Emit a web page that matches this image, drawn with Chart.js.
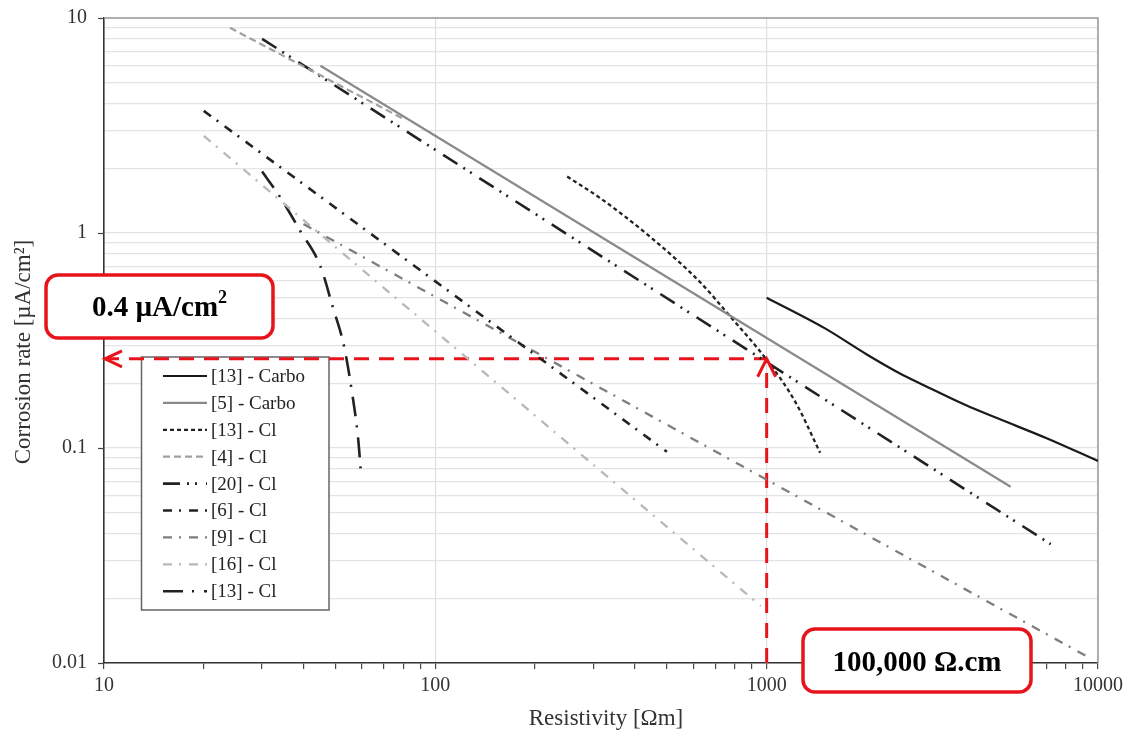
<!DOCTYPE html>
<html>
<head>
<meta charset="utf-8">
<script src="https://cdn.jsdelivr.net/npm/chart.js@4.4.0/dist/chart.umd.min.js"></script>
<style>
  html, body { margin: 0; padding: 0; background: #fff; }
  #wrap { width: 1130px; height: 740px; position: relative; }
</style>
</head>
<body>
<div id="wrap"><canvas id="chart" width="1130" height="740"></canvas></div>
<script>
// x = resistivity [Ωm], y = corrosion rate [µA/cm²]
const carbo13X = [1000, 1500, 2000, 2500, 3000, 4000, 5000, 7000, 10000];
const carbo13Y = [0.50, 0.36, 0.273, 0.224, 0.195, 0.158, 0.137, 0.111, 0.087];

const carbo5X = [45, 5450];
const carbo5Y = [6.0, 0.066];

const cl13dotX = [250, 315, 445, 630, 765, 1000, 1220, 1450];
const cl13dotY = [1.83, 1.45, 0.96, 0.59, 0.42, 0.257, 0.164, 0.095];

const cl4X = [24, 80];
const cl4Y = [9.0, 3.4];

const cl20X = [30, 7200];
const cl20Y = [8.0, 0.0357];

const cl6X = [20, 500];
const cl6Y = [3.7, 0.096];

const cl9X = [40, 9500];
const cl9Y = [1.1, 0.0105];

const cl16X = [20, 960];
const cl16Y = [2.83, 0.0184];

const cl13dashX = [30, 34, 39, 45, 49, 53, 55.7, 58.5, 59.5];
const cl13dashY = [1.93, 1.47, 1.03, 0.70, 0.454, 0.298, 0.193, 0.11, 0.08];

// red reading lines
const readX = [10, 1000];
const readY = [0.26, 0.26];
const readVX = [1000, 1000];
const readVY = [0.01, 0.26];

const yMajor = [0.01, 0.1, 1, 10];

const xTicks = [];
[10, 100, 1000].forEach(d => { for (let k = 1; k < 10; k++) xTicks.push(k * d); });
xTicks.push(10000);
const yTicks = [];
[0.01, 0.1, 1].forEach(d => { for (let k = 1; k < 10; k++) yTicks.push(+(k * d).toPrecision(3)); });
yTicks.push(10);

const isMajor = v => Math.abs(Math.log10(v) - Math.round(Math.log10(v))) < 1e-9;
const pts = (xs, ys) => xs.map((x, i) => ({ x: x, y: ys[i] }));

function series(label, xs, ys, color, width, dash, curved) {
    return {
        label: label,
        data: pts(xs, ys),
        borderColor: color,
        borderWidth: width,
        borderDash: dash,
        pointRadius: 0,
        fill: false,
        cubicInterpolationMode: curved ? 'monotone' : 'default',
        tension: 0
    };
}

const datasets = [
    series('[13] - Carbo', carbo13X, carbo13Y, '#1a1a1a', 2.2, [], true),
    series('[5] - Carbo', carbo5X, carbo5Y, '#8a8a8a', 2.2, [], false),
    series('[13] - Cl', cl13dotX, cl13dotY, '#222', 2.3, [4, 3], true),
    series('[4] - Cl', cl4X, cl4Y, '#a0a0a0', 2.2, [7, 4], false),
    series('[20] - Cl', cl20X, cl20Y, '#222', 2.6, [17, 7, 2, 6, 2, 9], false),
    series('[6] - Cl', cl6X, cl6Y, '#222', 2.6, [9, 7, 2, 8], false),
    series('[9] - Cl', cl9X, cl9Y, '#7e7e7e', 2.3, [9, 7, 2, 8], false),
    series('[16] - Cl', cl16X, cl16Y, '#b8b8b8', 2.3, [9, 7, 2, 8], false),
    series('[13] - Cl', cl13dashX, cl13dashY, '#222', 2.6, [20, 9, 2, 10], true)
];
const legendCount = datasets.length;

const RED = '#e8141c';
datasets.push({ label: 'readH', data: pts(readX, readY), borderColor: RED, borderWidth: 3, borderDash: [15, 10], pointRadius: 0, clip: false });
datasets.push({ label: 'readV', data: pts(readVX, readVY), borderColor: RED, borderWidth: 3, borderDash: [15, 10], pointRadius: 0, clip: false });

function roundBox(ctx, x, y, w, h, r) {
    ctx.beginPath();
    ctx.moveTo(x + r, y);
    ctx.arcTo(x + w, y, x + w, y + h, r);
    ctx.arcTo(x + w, y + h, x, y + h, r);
    ctx.arcTo(x, y + h, x, y, r);
    ctx.arcTo(x, y, x + w, y, r);
    ctx.closePath();
    ctx.fillStyle = '#fff';
    ctx.fill();
    ctx.lineWidth = 3.5;
    ctx.strokeStyle = RED;
    ctx.stroke();
}

const decor = {
    id: 'decor',
    beforeDatasetsDraw(chart) {
        const ctx = chart.ctx;
        const a = chart.chartArea;
        ctx.save();
        // top / right frame
        ctx.strokeStyle = '#9a9a9a';
        ctx.lineWidth = 1.5;
        ctx.beginPath();
        ctx.moveTo(a.left, a.top);
        ctx.lineTo(a.right, a.top);
        ctx.lineTo(a.right, a.bottom);
        ctx.stroke();

        // short tick marks on the y axis (major values only)
        ctx.strokeStyle = '#444';
        ctx.lineWidth = 1.2;
        yMajor.forEach(v => {
            const py = Math.round(chart.scales.y.getPixelForValue(v)) + 0.5;
            ctx.beginPath();
            ctx.moveTo(a.left - 6, py);
            ctx.lineTo(a.left, py);
            ctx.stroke();
        });

        // legend box
        const lx = 141.5, ly = 357, lw = 187.5, lh = 253;
        ctx.fillStyle = '#fff';
        ctx.fillRect(lx, ly, lw, lh);
        ctx.strokeStyle = '#666';
        ctx.lineWidth = 1.5;
        ctx.strokeRect(lx, ly, lw, lh);
        ctx.font = '19px "Liberation Serif"';
        ctx.textBaseline = 'middle';
        ctx.fillStyle = '#222';
        for (let i = 0; i < legendCount; i++) {
            const ds = datasets[i];
            const y = 376 + i * 26.9;
            ctx.beginPath();
            ctx.setLineDash(ds.borderDash);
            ctx.strokeStyle = ds.borderColor;
            ctx.lineWidth = ds.borderWidth;
            ctx.moveTo(163, y);
            ctx.lineTo(207, y);
            ctx.stroke();
            ctx.setLineDash([]);
            ctx.fillText(ds.label, 211, y + 1);
        }
        ctx.restore();
    },
    afterDraw(chart) {
        const ctx = chart.ctx;
        const xs = chart.scales.x, ys = chart.scales.y;
        ctx.save();
        // arrow heads
        ctx.strokeStyle = RED;
        ctx.lineWidth = 3;
        const hx = xs.getPixelForValue(readX[0]) + 1, hy = ys.getPixelForValue(readY[0]);
        ctx.beginPath();
        ctx.moveTo(hx + 17, hy - 8);
        ctx.lineTo(hx, hy);
        ctx.lineTo(hx + 17, hy + 8);
        ctx.stroke();
        const vx = xs.getPixelForValue(readVX[1]), vy = ys.getPixelForValue(readVY[1]);
        ctx.beginPath();
        ctx.moveTo(vx - 9, vy + 18);
        ctx.lineTo(vx, vy);
        ctx.lineTo(vx + 9, vy + 18);
        ctx.stroke();

        // annotation boxes
        roundBox(ctx, 46, 275, 227, 63, 12);
        roundBox(ctx, 803, 629, 228, 63, 12);
        ctx.fillStyle = '#000';
        ctx.textBaseline = 'alphabetic';
        ctx.font = 'bold 29px "Liberation Serif"';
        const t1 = '0.4 µA/cm';
        const w1 = ctx.measureText(t1).width;
        ctx.font = 'bold 18px "Liberation Serif"';
        const w2 = ctx.measureText('2').width;
        const sx = 159.5 - (w1 + w2) / 2;
        ctx.font = 'bold 29px "Liberation Serif"';
        ctx.textAlign = 'left';
        ctx.fillText(t1, sx, 316);
        ctx.font = 'bold 18px "Liberation Serif"';
        ctx.fillText('2', sx + w1, 303);
        ctx.font = 'bold 29px "Liberation Serif"';
        ctx.textAlign = 'center';
        ctx.fillText('100,000 Ω.cm', 917, 671);

        // axis titles
        ctx.fillStyle = '#333';
        ctx.font = '23px "Liberation Serif"';
        ctx.textBaseline = 'middle';
        ctx.fillText('Resistivity [Ωm]', 606, 719);
        ctx.translate(24, 352);
        ctx.rotate(-Math.PI / 2);
        ctx.fillText('Corrosion rate [µA/cm²]', 0, 0);
        ctx.restore();
    }
};

const tickFont = { family: '"Liberation Serif"', size: 20 };

new Chart(document.getElementById('chart'), {
    type: 'line',
    data: { datasets: datasets },
    plugins: [decor],
    options: {
        responsive: false,
        animation: false,
        layout: { padding: { left: 0, right: 32, top: 18, bottom: 0 } },
        plugins: { legend: { display: false }, tooltip: { enabled: false } },
        scales: {
            x: {
                type: 'logarithmic',
                min: 10,
                max: 10000,
                afterBuildTicks: s => { s.ticks = xTicks.map(v => ({ value: v, major: isMajor(v) })); },
                afterFit: s => { s.height = 77; },
                ticks: {
                    autoSkip: false,
                    maxRotation: 0,
                    padding: 5,
                    color: '#333',
                    font: tickFont,
                    callback: v => isMajor(v) ? String(v) : ''
                },
                grid: {
                    color: c => (c.tick && isMajor(c.tick.value)) ? '#dedede' : 'rgba(0,0,0,0)',
                    tickColor: '#444',
                    tickLength: 6,
                    lineWidth: 1.2
                },
                border: { color: '#333', width: 1.6 }
            },
            y: {
                type: 'logarithmic',
                min: 0.01,
                max: 10,
                afterBuildTicks: s => { s.ticks = yTicks.map(v => ({ value: v, major: isMajor(v) })); },
                afterFit: s => { s.width = 104; },
                ticks: {
                    autoSkip: false,
                    padding: 0,
                    color: '#333',
                    font: tickFont,
                    callback: v => isMajor(v) ? String(v) : ''
                },
                grid: {
                    color: '#e4e4e4',
                    tickColor: 'rgba(0,0,0,0)',
                    tickLength: 17,
                    lineWidth: 1.2
                },
                border: { color: '#333', width: 1.6 }
            }
        }
    }
});
</script>
</body>
</html>
